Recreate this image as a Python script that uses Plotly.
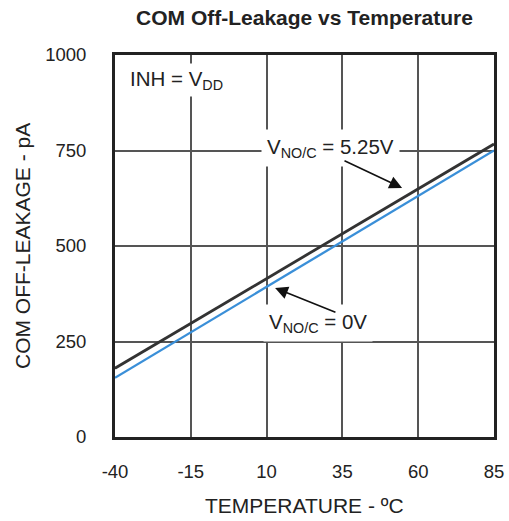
import plotly.graph_objects as go

temps = [-40, -15, 10, 35, 60, 85]
leak_525 = [180, 297, 415, 532, 650, 767]
leak_0 = [155, 274, 393, 512, 631, 750]
x_ticks = [-40, -15, 10, 35, 60, 85]
x_tick_text = ["-40", "-15", "10", "35", "60", "85"]
y_ticks = [0, 250, 500, 750, 1000]

FONT = "Liberation Sans, Arial, sans-serif"
TXT = "#222222"

fig = go.Figure()
fig.add_trace(go.Scatter(x=temps, y=leak_525, mode="lines",
                         line=dict(color="#333333", width=2.8), showlegend=False))
fig.add_trace(go.Scatter(x=temps, y=leak_0, mode="lines",
                         line=dict(color="#3a8fd8", width=2.3), showlegend=False))

fig.update_layout(
    width=509, height=521,
    margin=dict(l=115, r=15, t=55, b=84, autoexpand=False),
    paper_bgcolor="white", plot_bgcolor="white",
    font=dict(family=FONT, color=TXT, size=18),
    title=dict(text="<b>COM Off-Leakage vs Temperature</b>", x=0.5, xref="paper", xanchor="center",
               y=1 - 18 / 521, yref="container", yanchor="middle",
               font=dict(size=21, color=TXT), automargin=False),
    xaxis=dict(range=[-40, 85], tickvals=x_ticks, ticktext=x_tick_text, showgrid=True,
               gridcolor="#555555", gridwidth=2, showline=True, linecolor="#222222",
               linewidth=3, mirror=True, zeroline=False, ticks="", ticklabelstandoff=16,
               tickfont=dict(size=18.5, color=TXT), automargin=False),
    yaxis=dict(range=[0, 1000], tickvals=y_ticks, showgrid=True, gridcolor="#555555",
               gridwidth=2, showline=True, linecolor="#222222", linewidth=3, mirror=True,
               zeroline=False, ticks="", ticklabelstandoff=22,
               tickfont=dict(size=18.5, color=TXT), automargin=False),
)

# axis titles
fig.add_annotation(x=0.5, y=(437 - 505) / 382, xref="paper", yref="paper",
                   text="TEMPERATURE - ºC", showarrow=False, xanchor="center", yanchor="middle",
                   font=dict(size=21, color=TXT))
fig.add_annotation(x=(22 - 115) / 379, y=(437 - 246) / 382, xref="paper", yref="paper",
                   text="COM OFF-LEAKAGE - pA", showarrow=False, textangle=-90,
                   xanchor="center", yanchor="middle", font=dict(size=21, color=TXT))

fig.add_annotation(x=-36.5, y=935, xref="x", yref="y", text="INH = V<sub>DD</sub>",
                   showarrow=False, xanchor="left", yanchor="middle", bgcolor="white",
                   borderpad=3, font=dict(size=20.5, color=TXT))
fig.add_annotation(x=31, y=757, xref="x", yref="y", text="V<sub>NO/C</sub> = 5.25V",
                   showarrow=False, xanchor="center", yanchor="middle", bgcolor="white",
                   borderpad=5, font=dict(size=20.5, color=TXT))
fig.add_annotation(x=27, y=298, xref="x", yref="y", text="V<sub>NO/C</sub> = 0V",
                   showarrow=False, xanchor="center", yanchor="middle", bgcolor="white",
                   borderpad=5, font=dict(size=20.5, color=TXT))
fig.add_annotation(x=54.7, y=652, ax=35.2, ay=725, xref="x", yref="y", axref="x", ayref="y",
                   text="", showarrow=True, arrowhead=2, arrowsize=1.6, arrowwidth=1.6,
                   arrowcolor="#111111")
fig.add_annotation(x=12.8, y=390, ax=33.2, ay=325, xref="x", yref="y", axref="x", ayref="y",
                   text="", showarrow=True, arrowhead=2, arrowsize=1.6, arrowwidth=1.6,
                   arrowcolor="#111111")

fig.write_html("out.html", config={"displayModeBar": False},
               post_script="document.body.style.margin='0px';")
